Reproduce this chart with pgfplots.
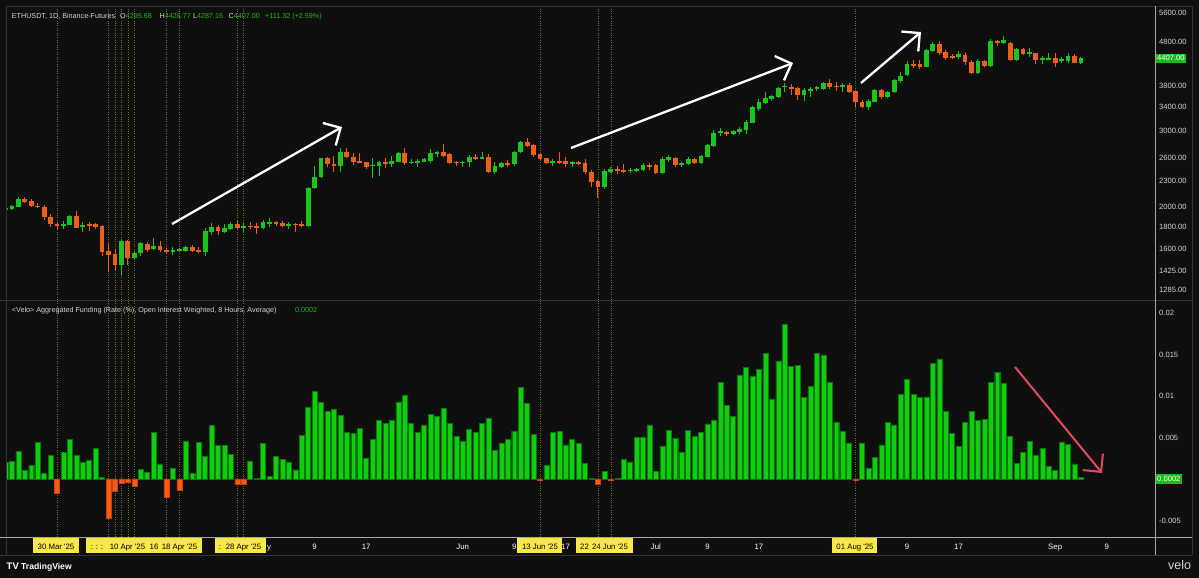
\documentclass[border=0pt]{standalone}
\usepackage{pgfplots}
\pgfplotsset{compat=1.18}
\usepackage{pgfplotstable}
\usepackage{fontspec}
\setmainfont{Liberation Sans}
\usetikzlibrary{arrows.meta}

\definecolor{bg}{RGB}{15,15,15}
\definecolor{cgreen}{RGB}{30,196,30}
\definecolor{corange}{RGB}{238,94,24}
\definecolor{bgreen}{RGB}{18,204,18}
\definecolor{bgreenedge}{RGB}{8,120,8}
\definecolor{bred}{RGB}{255,90,20}
\definecolor{vline}{RGB}{120,108,45}
\definecolor{tvyellow}{RGB}{250,232,70}
\definecolor{txt}{RGB}{212,212,212}
\definecolor{hgreen}{RGB}{34,178,34}
\definecolor{boxgreen}{RGB}{24,190,24}
\definecolor{sep}{RGB}{52,52,52}
\definecolor{lightax}{RGB}{165,165,165}
\definecolor{rarrow}{RGB}{232,72,92}

\newcommand{\lab}{\fontsize{7.6}{9}\selectfont}
\newcommand{\hdr}{\fontsize{7.2}{9}\selectfont}
\newcommand{\dlab}{\fontsize{7.8}{9}\selectfont}

\pgfplotstableread{
d O H L C
-8 1964 1999 1957 1985
-7 1978 2020 1967 2006
-6 1999 2107 1994 2085
-5 2085 2104 2038 2056
-4 2066 2085 1999 2006
-3 2012 2042 1985 1999
-2 2002 2020 1868 1891
-1 1898 1922 1800 1823
0 1826 1842 1768 1804
1 1806 1858 1780 1829
2 1819 1915 1816 1905
3 1905 1957 1784 1790
4 1794 1845 1752 1819
5 1826 1842 1761 1809
6 1823 1833 1775 1794
7 1809 1816 1542 1576
8 1582 1648 1413 1551
9 1559 1599 1430 1468
10 1468 1683 1392 1671
11 1671 1677 1468 1521
12 1521 1576 1508 1565
13 1562 1662 1542 1648
14 1644 1657 1576 1593
15 1596 1699 1590 1627
16 1624 1668 1576 1588
17 1593 1610 1556 1576
18 1576 1619 1548 1593
19 1588 1605 1576 1593
20 1584 1627 1576 1616
21 1616 1633 1573 1584
22 1590 1619 1562 1576
23 1576 1787 1540 1759
24 1747 1833 1722 1800
25 1800 1816 1722 1759
26 1752 1823 1738 1784
27 1778 1842 1768 1823
28 1826 1855 1768 1784
29 1794 1833 1752 1800
30 1809 1842 1778 1797
31 1806 1833 1731 1797
32 1787 1865 1778 1842
33 1829 1881 1800 1848
34 1842 1855 1809 1823
35 1838 1855 1794 1806
36 1804 1842 1778 1829
37 1829 1838 1752 1813
38 1826 1855 1794 1809
39 1806 2227 1800 2215
40 2208 2490 2200 2348
41 2341 2599 2328 2590
42 2590 2612 2477 2508
43 2517 2624 2410 2490
44 2490 2730 2410 2682
45 2682 2730 2590 2603
46 2608 2658 2499 2543
47 2552 2658 2522 2535
48 2535 2543 2446 2469
49 2482 2590 2328 2503
50 2490 2552 2360 2535
51 2535 2590 2455 2512
52 2512 2624 2477 2557
53 2543 2678 2535 2658
54 2658 2730 2499 2522
55 2530 2575 2508 2543
56 2522 2575 2477 2552
57 2543 2599 2535 2575
58 2557 2715 2522 2658
59 2649 2692 2608 2682
60 2682 2791 2608 2625
61 2645 2658 2508 2526
62 2543 2552 2486 2522
63 2522 2552 2469 2543
64 2535 2635 2477 2608
65 2608 2645 2566 2578
66 2586 2672 2575 2608
67 2608 2645 2390 2410
68 2410 2543 2381 2490
69 2472 2543 2455 2530
70 2530 2566 2477 2499
71 2508 2697 2490 2682
72 2672 2839 2658 2829
73 2820 2880 2749 2769
74 2779 2789 2608 2635
75 2649 2658 2566 2578
76 2590 2599 2508 2530
77 2530 2575 2490 2557
78 2552 2682 2508 2539
79 2557 2608 2469 2512
80 2512 2552 2477 2543
81 2535 2552 2499 2512
82 2530 2575 2378 2403
83 2410 2433 2227 2287
84 2298 2307 2093 2220
85 2220 2450 2196 2420
86 2410 2477 2390 2450
87 2450 2486 2381 2414
88 2433 2512 2395 2414
89 2420 2455 2390 2437
90 2424 2459 2407 2446
91 2433 2530 2420 2503
92 2503 2522 2433 2472
93 2495 2508 2378 2390
94 2399 2603 2378 2575
95 2566 2635 2543 2603
96 2595 2612 2477 2495
97 2495 2543 2477 2522
98 2512 2612 2495 2586
99 2586 2599 2512 2530
100 2530 2635 2512 2621
101 2608 2794 2603 2779
102 2764 3010 2754 2962
103 2962 3037 2920 2988
104 2983 2999 2920 2956
105 2952 3010 2931 2994
106 2972 3064 2952 3031
107 3010 3175 2946 3148
108 3131 3420 3121 3402
109 3366 3544 3335 3500
110 3469 3690 3450 3563
111 3544 3626 3512 3603
112 3588 3790 3575 3770
113 3790 3870 3690 3810
114 3790 3844 3626 3750
115 3757 3790 3531 3626
116 3626 3770 3512 3724
117 3710 3790 3588 3736
118 3736 3804 3704 3784
119 3744 3885 3724 3872
120 3872 3948 3744 3790
121 3810 3885 3704 3790
122 3804 3858 3690 3824
123 3824 3858 3658 3690
124 3704 3724 3407 3488
125 3500 3531 3378 3402
126 3402 3550 3348 3512
127 3500 3744 3488 3724
128 3724 3744 3550 3588
129 3588 3704 3563 3690
130 3678 3948 3658 3927
131 3906 4102 3872 4018
132 4027 4345 4013 4270
133 4270 4368 4180 4231
134 4270 4368 4164 4209
135 4216 4623 4202 4607
136 4590 4814 4566 4756
137 4756 4833 4486 4526
138 4566 4607 4378 4424
139 4469 4503 4384 4424
140 4447 4583 4400 4510
141 4486 4526 4254 4330
142 4330 4368 4058 4072
143 4072 4391 4058 4352
144 4352 4368 4216 4238
145 4238 4892 4202 4833
146 4833 4870 4708 4793
147 4775 4964 4758 4858
148 4793 4814 4352 4368
149 4368 4664 4345 4632
150 4623 4648 4486 4510
151 4510 4664 4447 4551
152 4526 4541 4270 4368
153 4368 4456 4277 4424
154 4391 4526 4368 4408
155 4424 4526 4216 4307
156 4352 4447 4291 4400
157 4352 4526 4307 4469
158 4469 4503 4291 4307
159 4295.68 4426.77 4287.16 4407.00
}\candles

\pgfplotstableread{
d v
-8 0.00197
-7 0.00213
-6 0.00337
-5 0.00104
-4 0.00161
-3 0.00442
-2 0.00064
-1 0.00285
0 -0.00173
1 0.00321
2 0.00474
3 0.00281
4 0.00205
5 0.00229
6 0.00369
7 0.0002
8 -0.00474
9 -0.00149
10 -0.00052
11 -0.00044
12 -0.00084
13 0.0012
14 0.00076
15 0.00566
16 0.00181
17 -0.00225
18 0.00129
19 -0.00133
20 0.00458
21 0.00068
22 0.00442
23 0.00277
24 0.00647
25 0.00402
26 0.00406
27 0.00297
28 -0.00068
29 -0.00068
30 0.00217
31 0.00012
32 0.0043
33 0.00028
34 0.00273
35 0.00237
36 0.00205
37 0.00112
38 0.00522
39 0.00859
40 0.01056
41 0.0092
42 0.00811
43 0.00835
44 0.00767
45 0.00566
46 0.0055
47 0.0061
48 0.00253
49 0.00474
50 0.00707
51 0.00667
52 0.00711
53 0.00928
54 0.01012
55 0.00671
56 0.00566
57 0.00651
58 0.00779
59 0.00751
60 0.00855
61 0.00671
62 0.0051
63 0.0045
64 0.00594
65 0.00566
66 0.00671
67 0.00735
68 0.00341
69 0.00434
70 0.00474
71 0.00578
72 0.01108
73 0.00908
74 0.00534
75 -0.0001
76 0.00161
77 0.00562
78 0.0057
79 0.0041
80 0.00478
81 0.00426
82 0.00189
83 0.0001
84 -0.0006
85 0.00096
86 -0.0001
87 0.0001
88 0.00233
89 0.00205
90 0.00498
91 0.00498
92 0.00651
93 0.00088
94 0.00398
95 0.00582
96 0.0049
97 0.00325
98 0.00582
99 0.0051
100 0.00558
101 0.00663
102 0.00703
103 0.01165
104 0.00884
105 0.00751
106 0.01253
107 0.01345
108 0.01233
109 0.01325
110 0.01514
111 0.00964
112 0.01422
113 0.01863
114 0.01361
115 0.01369
116 0.0098
117 0.01112
118 0.01514
119 0.01494
120 0.01161
121 0.00679
122 0.0057
123 0.00434
124 -0.0001
125 0.00434
126 0.00133
127 0.00257
128 0.0041
129 0.00683
130 0.00651
131 0.01016
132 0.01201
133 0.01024
134 0.0098
135 0.00988
136 0.01394
137 0.01446
138 0.00811
139 0.00554
140 0.0039
141 0.00679
142 0.00819
143 0.00707
144 0.00719
145 0.01165
146 0.01285
147 0.01149
148 0.00514
149 0.00189
150 0.00325
151 0.00454
152 0.00289
153 0.00373
154 0.00153
155 0.00108
156 0.00446
157 0.00418
158 0.00181
159 0.0002
}\funding

\pgfplotsset{
  tvbase/.style={
    scale only axis, anchor=south west,
    width=1149pt,
    xmin=-7.919, xmax=170.5,
    axis line style={draw=none},
    major tick length=0pt,
    extra x ticks={0,8,9,10,11,12,17,19,28,29,75,84,86,124},
    extra x tick labels={},
    extra x tick style={grid=major, major grid style={draw=vline, line width=0.6pt, dash pattern=on 1pt off 1.4pt}},
    yticklabel pos=right,
    yticklabel style={anchor=west, inner sep=0pt, xshift=4pt, font=\lab, text=txt},
    scaled y ticks=false,
  },
  wick/.style={draw=none, mark=none, forget plot,
    error bars/y dir=both, error bars/y explicit, error bars/error mark=none,
    error bars/error bar style={draw=#1, line width=0.9pt}},
  body/.style={draw=none, mark=none, forget plot,
    error bars/y dir=both, error bars/y explicit, error bars/error mark=none,
    error bars/error bar style={draw=#1, line width=4.8pt}},
}

\begin{document}
\begin{tikzpicture}[x=1pt,y=1pt]
\fill[bg] (0,0) rectangle (1199,578);

% ---------------- price pane ----------------
\begin{axis}[tvbase, at={(6pt,278pt)}, height=294pt,
  ymin=7.1055, ymax=8.6693,
  xtick=\empty,
  ytick={8.630522,8.476371,8.242756,8.131531,8.006368,7.863267,7.740664,7.600902,7.495542,7.377759,7.261927,7.158514},
  yticklabels={5600.00,4800.00,3800.00,3400.00,3000.00,2600.00,2300.00,2000.00,1800.00,1600.00,1425.00,1285.00},
]
\addplot[restrict expr to domain={\thisrow{C}-\thisrow{O}}{0:100000}, wick=cgreen]
  table[x=d, y expr={0.5*(ln(\thisrow{H})+ln(\thisrow{L}))}, y error expr={0.5*(ln(\thisrow{H})-ln(\thisrow{L}))}] {\candles};
\addplot[restrict expr to domain={\thisrow{C}-\thisrow{O}}{0:100000}, body=cgreen]
  table[x=d, y expr={0.5*(ln(\thisrow{O})+ln(\thisrow{C}))}, y error expr={max(0.5*abs(ln(\thisrow{C})-ln(\thisrow{O})),0.003)}] {\candles};
\addplot[restrict expr to domain={\thisrow{O}-\thisrow{C}}{0.000001:100000}, wick=corange]
  table[x=d, y expr={0.5*(ln(\thisrow{H})+ln(\thisrow{L}))}, y error expr={0.5*(ln(\thisrow{H})-ln(\thisrow{L}))}] {\candles};
\addplot[restrict expr to domain={\thisrow{O}-\thisrow{C}}{0.000001:100000}, body=corange]
  table[x=d, y expr={0.5*(ln(\thisrow{O})+ln(\thisrow{C}))}, y error expr={max(0.5*abs(ln(\thisrow{C})-ln(\thisrow{O})),0.003)}] {\candles};
\end{axis}

% ---------------- funding pane ----------------
\begin{axis}[tvbase, at={(6pt,41pt)}, height=237pt,
  ymin=-0.006988, ymax=0.021566,
  xtick={40,48,63,71,79,93,101,109,132,140,155,163},
  xticklabels={9,17,Jun,9,17,Jul,9,17,9,17,Sep,9},
  xticklabel style={anchor=base, yshift=-13pt, font=\dlab, text=white},
  ytick={0.02,0.015,0.01,0.005,-0.005},
  yticklabels={0.02,0.015,0.01,0.005,-0.005},
]
\addplot[ybar, bar width=5pt, bar shift=0pt, fill=bgreen, draw=bgreenedge, line width=0.4pt, restrict y to domain=0:1]
  table[x=d, y=v] {\funding};
\addplot[ybar, bar width=5pt, bar shift=0pt, fill=bred, draw=bred!75!black, line width=0.4pt, restrict y to domain=-1:-0.000001]
  table[x=d, y=v] {\funding};
\end{axis}

% ---------------- frame lines ----------------
\draw[sep, line width=0.8pt] (6,572) -- (1192,572);
\draw[sep, line width=0.8pt] (0,278) -- (1192,278);
\draw[sep, line width=0.8pt] (6,572) -- (6,23);
\draw[sep, line width=0.8pt] (0,23) -- (1192,23);
\draw[sep, line width=0.8pt] (1192,572) -- (1192,23);
\draw[lightax, line width=0.8pt] (0,41) -- (1192,41);
\draw[lightax, line width=0.8pt] (1155,572) -- (1155,23);

% ---------------- date highlight boxes ----------------
\begin{scope}[every node/.style={font=\dlab, text=black, inner sep=0pt, anchor=base}]
\fill[tvyellow] (33,25) rectangle (79,40);
\node at (56,28) {30 Mar \textquotesingle25};
\fill[tvyellow] (86,25) rectangle (202,40);
\node at (92,28) {:};
\node at (97,28) {:};
\node at (102,28) {:};
\node at (127.5,28) {10 Apr \textquotesingle25};
\node at (154,28) {16};
\node at (179.5,28) {18 Apr \textquotesingle25};
\fill[tvyellow] (215,25) rectangle (266,40);
\node at (220,28) {:};
\node at (243.5,28) {28 Apr \textquotesingle25};
\node[text=white, anchor=base west] at (266.8,28) {y};
\fill[tvyellow] (517,25) rectangle (562,40);
\node at (540,28) {13 Jun \textquotesingle25};
\fill[tvyellow] (576,25) rectangle (633,40);
\node at (584.5,28) {22};
\node at (610,28) {24 Jun \textquotesingle25};
\fill[tvyellow] (832,25) rectangle (877,40);
\node at (855,28) {01 Aug \textquotesingle25};
\end{scope}

% ---------------- last value boxes ----------------
\node[fill=boxgreen, text=white, font=\lab, inner xsep=1.5pt, inner ysep=2pt, anchor=west] at (1155.5,519.7) {4407.00};
\node[fill=boxgreen, text=white, font=\lab, inner xsep=1.5pt, inner ysep=2pt, anchor=west] at (1155.5,99) {0.0002};

% ---------------- headers ----------------
\begin{scope}[every node/.style={font=\hdr, text=txt, inner sep=0pt, anchor=base west}]
\node at (11.7,559.7) {ETHUSDT, 1D, Binance-Futures};
\node at (120,559.7) {O\textcolor{hgreen}{4295.68}};
\node at (159.5,559.7) {H\textcolor{hgreen}{4426.77}};
\node at (193,559.7) {L\textcolor{hgreen}{4287.16}};
\node at (228.5,559.7) {C\textcolor{hgreen}{4407.00}};
\node at (265,559.7) {\textcolor{hgreen}{+111.32 (+2.59\%)}};
\node at (11.7,265) {<Velo> Aggregated Funding (Rate (\%), Open Interest Weighted, 8 Hours, Average)};
\node at (295,265) {\textcolor{hgreen}{0.0002}};
\end{scope}

% ---------------- annotation arrows ----------------
\draw[white, line width=2.3pt, -{Straight Barb[length=13pt,width=26pt]}] (172,354) -- (342,451);
\draw[white, line width=2.3pt, -{Straight Barb[length=13pt,width=26pt]}] (571,430) -- (793,515);
\draw[white, line width=2.3pt, -{Straight Barb[length=13pt,width=26pt]}] (861,495) -- (921,546);
\draw[rarrow, line width=2pt, -{Straight Barb[length=13pt,width=26pt]}] (1015,211) -- (1102,105);

% ---------------- logos ----------------
\node[anchor=base west, inner sep=0pt, text=white, font=\fontsize{9.5}{10}\selectfont\bfseries] at (6.5,9) {TV};
\node[anchor=base west, inner sep=0pt, text=white, font=\fontsize{8.6}{10}\selectfont\bfseries] at (21,9) {TradingView};
\node[anchor=base west, inner sep=0pt, text=txt, font=\fontsize{12.5}{13}\selectfont] at (1168,8) {velo};

\pgfresetboundingbox
\useasboundingbox (0,0) rectangle (1199,578);
\end{tikzpicture}
\end{document}
